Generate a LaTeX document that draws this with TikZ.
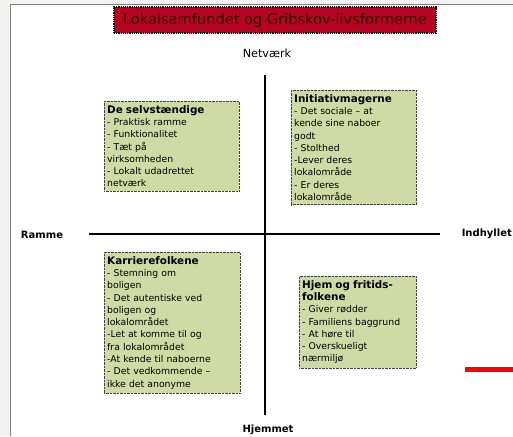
\documentclass[tikz,border=0pt]{standalone}
\usepackage{fontspec}
\setmainfont{DejaVu Sans}
\definecolor{boksgroen}{RGB}{208,218,164}
\definecolor{titelrod}{RGB}{182,4,32}
\definecolor{titeltekst}{RGB}{50,0,0}
\definecolor{kant}{RGB}{243,242,240}
\newcommand{\felthoved}[1]{{\fontsize{10.4}{12.3}\selectfont\bfseries #1}}

\tikzset{
  feltboks/.style={draw=black!75, densely dotted, fill=boksgroen, align=left,
    anchor=north west, inner xsep=3pt, inner ysep=4pt, font=\fontsize{9.3}{12.3}\selectfont},
  akse/.style={line width=2.6pt},
  aksetekst/.style={font=\fontsize{10}{11}\selectfont\bfseries},
}

\begin{document}
\begin{tikzpicture}[x=1pt,y=-1pt]
  \useasboundingbox (0,0) rectangle (513,436);
  % side og baggrund
  \fill[kant] (0,0) rectangle (513,436);
  \fill[white] (10,5) rectangle (513,436);
  \draw[gray, line width=1pt] (10,436) -- (10,5) -- (513,5);

  % overskrift
  \node[draw=black, densely dotted, line width=1.2pt, fill=titelrod, text=titeltekst,
    minimum width=322pt, minimum height=26pt, font=\fontsize{14.6}{16}\selectfont]
    (tittel) at (275,20) {Lokalsamfundet og Gribskov-livsformerne};

  % akser
  \coordinate (top) at (265,75);
  \coordinate (bund) at (265,415);
  \coordinate (venstre) at (89,234);
  \coordinate (hoejre) at (440,234);
  \draw[akse] (top) -- (bund);
  \draw[akse] (venstre) -- (hoejre);

  \node[font=\fontsize{11.2}{12}\selectfont] (netvaerk) at (267,53) {Netværk};
  \node[aksetekst] (ramme) at (42,235) {Ramme};
  \node[aksetekst, anchor=east, inner xsep=1pt] (indhyllet) at (513,234) {Indhyllet};
  \node[aksetekst] (hjemmet) at (268,430) {Hjemmet};

  % de fire felter
  \node[feltboks, text width=129pt] (selvst) at (104,101)
    {\felthoved{De selvstændige}\\- Praktisk ramme\\- Funktionalitet\\- Tæt på\\virksomheden\\- Lokalt udadrettet\\netværk};
  \node[feltboks, text width=119pt] (initiativ) at (291,90)
    {\felthoved{Initiativmagerne}\\- Det sociale – at\\kende sine naboer\\godt\\- Stolthed\\-Lever deres\\lokalområde\\- Er deres\\lokalområde};
  \node[feltboks, text width=130pt] (karriere) at (104,252)
    {\felthoved{Karrierefolkene}\\- Stemning om\\boligen\\- Det autentiske ved\\boligen og\\lokalområdet\\-Let at komme til og\\fra lokalområdet\\-At kende til naboerne\\- Det vedkommende –\\ikke det anonyme};
  \node[feltboks, text width=111pt] (hjemfritid) at (299,276)
    {\felthoved{Hjem og fritids-}\\\felthoved{folkene}\\- Giver rødder\\- Familiens baggrund\\- At høre til\\- Overskueligt\\nærmiljø};

  % rød streg
  \fill[red] (465,367) rectangle (513,372);
\end{tikzpicture}
\end{document}
